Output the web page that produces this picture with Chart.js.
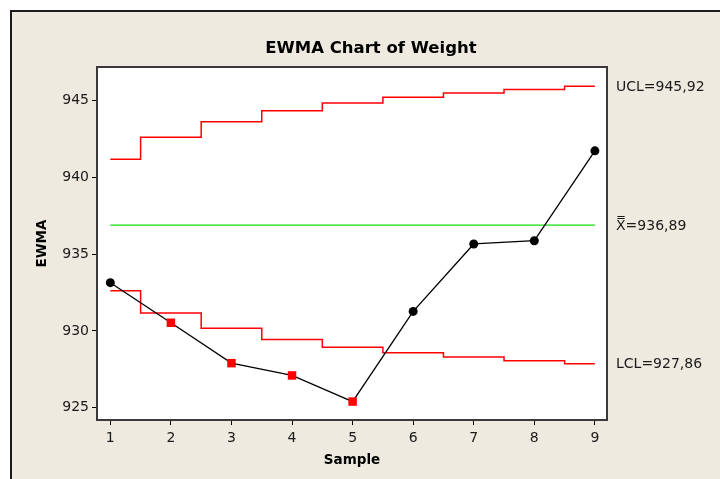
<!DOCTYPE html>
<html>
<head>
<meta charset="utf-8">
<script src="https://cdn.jsdelivr.net/npm/chart.js@4/dist/chart.umd.min.js"></script>
<style>
  html, body { margin: 0; padding: 0; background: #ffffff; }
  #wrap { width: 720px; height: 479px; position: relative; }
</style>
</head>
<body>
<div id="wrap"><canvas id="c" width="720" height="479"></canvas></div>
<script>
// ---- data ----
const samples = [1, 2, 3, 4, 5, 6, 7, 8, 9];
const ewma = [933.14, 930.53, 927.90, 927.10, 925.40, 931.27, 935.66, 935.87, 941.72];
const ucl  = [941.17, 942.61, 943.61, 944.34, 944.84, 945.21, 945.48, 945.72, 945.92];
const lcl  = [932.61, 931.17, 930.17, 929.44, 928.94, 928.57, 928.30, 928.06, 927.86];
const centerValue = 936.89;
const yTicks = [925, 930, 935, 940, 945];
const xTicks = [1, 2, 3, 4, 5, 6, 7, 8, 9];
const chartTitle = 'EWMA Chart of Weight';
const xTitle = 'Sample';
const yTitle = 'EWMA';
const uclLabel = 'UCL=945,92';
const centerLabel = 'X\u033F=936,89';
const lclLabel = 'LCL=927,86';

// ---- derived tables ----
const ewmaPts = samples.map((s, i) => ({ x: s, y: ewma[i] }));
const uclPts = samples.map((s, i) => ({ x: s, y: ucl[i] }));
const lclPts = samples.map((s, i) => ({ x: s, y: lcl[i] }));
const centerPts = [{ x: samples[0], y: centerValue }, { x: samples[samples.length - 1], y: centerValue }];
const outFlags = ewma.map((v, i) => v > ucl[i] || v < lcl[i]);

const FONT = '"DejaVu Sans", Verdana, sans-serif';

const framePlugin = {
  id: 'frame',
  beforeDraw(chart) {
    const ctx = chart.ctx;
    const a = chart.chartArea;
    ctx.save();
    ctx.fillStyle = '#ffffff';
    ctx.fillRect(0, 0, chart.width, chart.height);
    ctx.fillStyle = '#EEEAE0';
    ctx.fillRect(11, 11, chart.width, chart.height);
    ctx.fillStyle = '#1c1c1c';
    ctx.fillRect(10, 10, chart.width, 2);
    ctx.fillRect(10, 10, 2, chart.height);
    ctx.fillStyle = '#ffffff';
    ctx.fillRect(a.left, a.top, a.right - a.left, a.bottom - a.top);
    ctx.restore();
  },
  afterDraw(chart) {
    const ctx = chart.ctx;
    const a = chart.chartArea;
    const ys = chart.scales.y;
    ctx.save();
    ctx.strokeStyle = '#3a3a3a';
    ctx.lineWidth = 2;
    ctx.strokeRect(a.left, a.top, a.right - a.left, a.bottom - a.top);

    ctx.fillStyle = '#000000';
    ctx.textAlign = 'center';
    ctx.textBaseline = 'alphabetic';
    ctx.font = 'bold 16.5px ' + FONT;
    ctx.fillText(chartTitle, (a.left + a.right) / 2 + 19, 53);

    ctx.font = 'bold 13.5px ' + FONT;
    ctx.fillText(xTitle, (a.left + a.right) / 2, 464);

    ctx.save();
    ctx.translate(46, (a.top + a.bottom) / 2);
    ctx.rotate(-Math.PI / 2);
    ctx.fillText(yTitle, 0, 0);
    ctx.restore();

    ctx.fillStyle = '#1a1a1a';
    ctx.font = '14px ' + FONT;
    ctx.textAlign = 'left';
    ctx.textBaseline = 'middle';
    const lx = a.right + 9;
    ctx.fillText(uclLabel, lx, ys.getPixelForValue(ucl[ucl.length - 1]) + 1);
    ctx.fillText(centerLabel, lx, ys.getPixelForValue(centerValue) + 1);
    ctx.fillText(lclLabel, lx, ys.getPixelForValue(lcl[lcl.length - 1]) + 1);
    ctx.restore();
  }
};

new Chart(document.getElementById('c'), {
  type: 'line',
  data: {
    datasets: [
      {
        label: 'EWMA',
        data: ewmaPts,
        borderColor: '#000000',
        borderWidth: 1.3,
        pointStyle: outFlags.map(f => f ? 'rect' : 'circle'),
        pointRadius: outFlags.map(f => f ? 6 : 4.5),
        pointBackgroundColor: outFlags.map(f => f ? '#ff0000' : '#000000'),
        pointBorderColor: outFlags.map(f => f ? '#ff0000' : '#000000'),
        pointBorderWidth: 0,
        tension: 0
      },
      {
        label: 'UCL',
        data: uclPts,
        borderColor: '#ff0000',
        borderWidth: 1.5,
        stepped: 'middle',
        pointRadius: 0
      },
      {
        label: 'LCL',
        data: lclPts,
        borderColor: '#ff0000',
        borderWidth: 1.5,
        stepped: 'middle',
        pointRadius: 0
      },
      {
        label: 'Center',
        data: centerPts,
        borderColor: '#11dd11',
        borderWidth: 1.2,
        pointRadius: 0
      }
    ]
  },
  options: {
    responsive: false,
    animation: false,
    events: [],
    layout: { padding: { left: 0, top: 67, right: 113, bottom: 0 } },
    plugins: { legend: { display: false }, title: { display: false }, tooltip: { enabled: false } },
    scales: {
      x: {
        type: 'linear',
        min: 0.78,
        max: 9.2,
        afterFit(s) { s.height = 59; },
        afterBuildTicks(s) { s.ticks = xTicks.map(v => ({ value: v })); },
        border: { display: false },
        grid: { drawOnChartArea: false, drawTicks: true, tickLength: 5, color: '#000000', lineWidth: 1 },
        ticks: { color: '#1a1a1a', font: { family: FONT, size: 14 }, padding: 5, maxRotation: 0, autoSkip: false }
      },
      y: {
        type: 'linear',
        min: 924.2,
        max: 947.18,
        afterFit(s) { s.width = 97; },
        afterBuildTicks(s) { s.ticks = yTicks.map(v => ({ value: v })); },
        border: { display: false },
        grid: { drawOnChartArea: false, drawTicks: true, tickLength: 5, color: '#000000', lineWidth: 1 },
        ticks: { color: '#1a1a1a', font: { family: FONT, size: 14 }, padding: 3 }
      }
    }
  },
  plugins: [framePlugin]
});
</script>
</body>
</html>
